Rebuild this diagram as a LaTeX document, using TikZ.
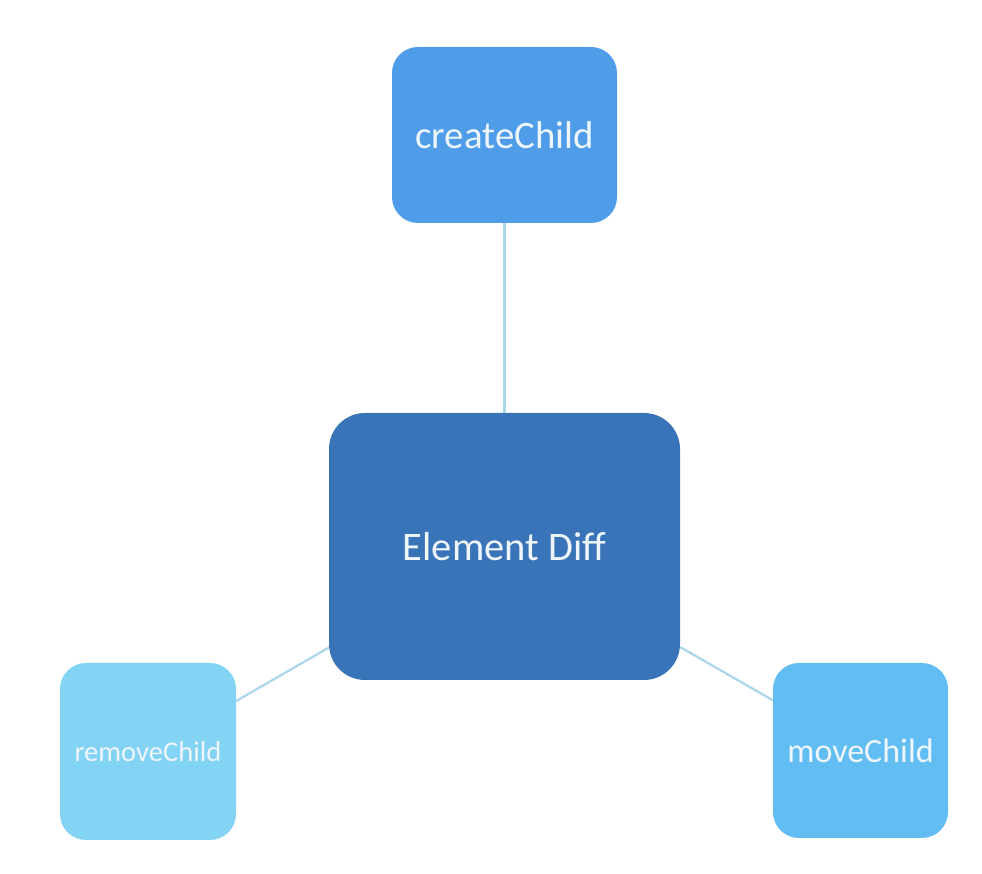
\documentclass[tikz,border=0pt]{standalone}
\usepackage{fontspec}
\setmainfont{Carlito}
\definecolor{cMain}{HTML}{3A74B8}
\definecolor{cCreate}{HTML}{4F9DE8}
\definecolor{cRemove}{HTML}{83D3F5}
\definecolor{cMove}{HTML}{62BEF2}
\definecolor{cLine}{HTML}{A9D6EA}
\definecolor{cText}{HTML}{EEF6FC}
\tikzset{
  box/.style={rectangle, rounded corners=26pt, inner sep=0pt, text=cText, align=center},
  link/.style={draw=cLine, line width=2.2pt}
}
\begin{document}
\begin{tikzpicture}[x=1pt,y=1pt]
\useasboundingbox[fill=white] (0,0) rectangle (982,874);
\node[box, fill=cMain, minimum width=351pt, minimum height=267pt, rounded corners=36pt, font=\fontsize{40.5}{46}\selectfont] (diff) at (504.5,327.5) {Element Diff};
\node[box, fill=cCreate, minimum width=225pt, minimum height=176pt, font=\fontsize{38.8}{44}\selectfont] (create) at (504.5,739) {createChild};
\node[box, fill=cRemove, minimum width=176pt, minimum height=177pt, font=\fontsize{28.6}{33}\selectfont] (remove) at (148,122.5) {removeChild};
\node[box, fill=cMove, minimum width=175pt, minimum height=175pt, font=\fontsize{34}{38}\selectfont] (move) at (860.5,123.5) {moveChild};
\draw[link] (create) -- (diff);
\draw[link] (diff) -- (remove);
\draw[link] (diff) -- (move);
\end{tikzpicture}
\end{document}
